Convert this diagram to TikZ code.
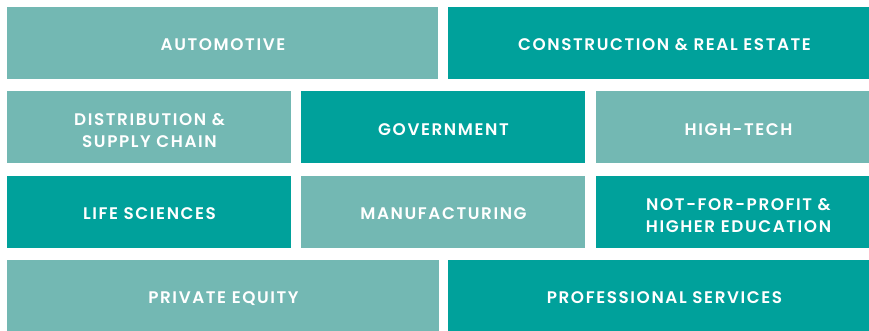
\documentclass[tikz,border=0pt]{standalone}
\usepackage{fontspec}
\setmainfont{Poppins}[BoldFont={Poppins SemiBold}, LetterSpace=9.5]
\definecolor{lightteal}{HTML}{73B8B3}
\definecolor{darkteal}{HTML}{00A19B}
\tikzset{
  tile/.style={inner sep=0pt, outer sep=0pt, font=\fontsize{16.8}{22}\selectfont\bfseries, text=white, align=center},
  one/.style={tile, anchor=base},
  two/.style={tile, anchor=center},
}
\begin{document}
\begin{tikzpicture}[x=1pt,y=-1pt]
\useasboundingbox (0,0) rectangle (869,331);
% row 1
\fill[lightteal] (7,7) rectangle (438,78.7);
\fill[darkteal] (448,7) rectangle (869,78.7);
\node[one] (auto) at (223,50.8) {AUTOMOTIVE};
\node[one] (cons) at (664.5,50.8) {CONSTRUCTION \& REAL ESTATE};
% row 2
\fill[lightteal] (7,91) rectangle (291,162.7);
\fill[darkteal] (301,91) rectangle (585,162.7);
\fill[lightteal] (596,91) rectangle (869,162.7);
\node[two] (dist) at (149.5,130.2) {DISTRIBUTION \&\\SUPPLY CHAIN};
\node[one] (gov) at (443.5,135.2) {GOVERNMENT};
\node[one] (hitech) at (738.5,135.2) {HIGH-TECH};
% row 3
\fill[darkteal] (7,176) rectangle (291,247.5);
\fill[lightteal] (301,176) rectangle (585,247.5);
\fill[darkteal] (596,176) rectangle (869,247.5);
\node[one] (life) at (149.5,219.8) {LIFE SCIENCES};
\node[one] (manu) at (443.5,219.8) {MANUFACTURING};
\node[two] (nfp) at (738.5,215.2) {NOT-FOR-PROFIT \&\\HIGHER EDUCATION};
% row 4
\fill[lightteal] (7,260) rectangle (439,331);
\fill[darkteal] (448,260) rectangle (869,331);
\node[one] (pe) at (223.5,303.5) {PRIVATE EQUITY};
\node[one] (ps) at (664.5,303.5) {PROFESSIONAL SERVICES};
\end{tikzpicture}
\end{document}
